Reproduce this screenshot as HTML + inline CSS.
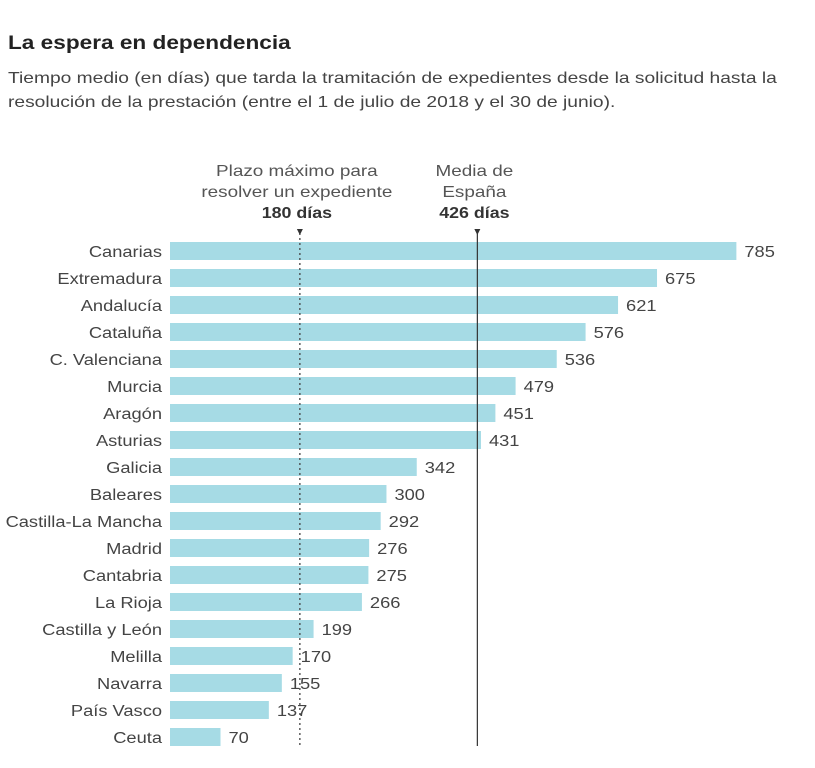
<!DOCTYPE html>
<html><head><meta charset="utf-8"><style>
body{margin:0;background:#fff;width:815px;height:768px;overflow:hidden;font-family:"Liberation Sans",sans-serif;color:#333}
h1{position:absolute;left:8px;top:33px;margin:0;font-size:19px;font-weight:bold;color:#222;transform:scaleX(1.19);transform-origin:0 0;white-space:nowrap}
p{position:absolute;left:8px;top:67px;margin:0;font-size:16px;line-height:24px;color:#444;width:650px;transform:scaleX(1.2);transform-origin:0 0}
svg{position:absolute;left:0;top:0}
</style></head><body>
<h1>La espera en dependencia</h1>
<p>Tiempo medio (en días) que tarda la tramitación de expedientes desde la solicitud hasta la resolución de la prestación (entre el 1 de julio de 2018 y el 30 de junio).</p>
<svg id="c" width="815" height="768"></svg>
<script>
const regions=["Canarias","Extremadura","Andalucía","Cataluña","C. Valenciana","Murcia","Aragón","Asturias","Galicia","Baleares","Castilla-La Mancha","Madrid","Cantabria","La Rioja","Castilla y León","Melilla","Navarra","País Vasco","Ceuta"];
const days=[785,675,621,576,536,479,451,431,342,300,292,276,275,266,199,170,155,137,70];
const maxLimit=180;
const spainMean=426;
const svg=document.getElementById('c');const NS="http://www.w3.org/2000/svg";
const x=v=>170+v*0.7215;
const y=i=>242+i*27;
function mk(t,a,txt){const e=document.createElementNS(NS,t);for(const k in a)e.setAttribute(k,a[k]);if(txt!=null)e.textContent=txt;svg.appendChild(e);return e;}
function tx(px,py,anchor,txt,extra,sx){const a=Object.assign({x:0,y:0,'text-anchor':anchor,'font-size':'15.5',fill:'#444',transform:`translate(${px},${py}) scale(${sx||1.18},1)`},extra||{});return mk('text',a,txt);}
regions.forEach((r,i)=>{
 const b=mk('rect',{x:x(0),y:y(i),width:x(days[i])-x(0),height:18,fill:'#a6dbe5'});
 
 
 const l=tx(162,y(i)+15,'end',r);
 
 
 const v=tx(x(days[i])+8,y(i)+15,'start',days[i]);
 
 
});
const d=mk('line',{x1:x(maxLimit),x2:x(maxLimit),y1:233,y2:746,stroke:'#444','stroke-width':1.3,'stroke-dasharray':'2,3'});


const m=mk('line',{x1:x(spainMean),x2:x(spainMean),y1:233,y2:746,stroke:'#333','stroke-width':1.2});


[[x(maxLimit),["Plazo máximo para","resolver un expediente"],maxLimit+" días"],[x(spainMean),["Media de","España"],spainMean+" días"]].forEach(([cx,lines,b],k)=>{
 lines.forEach((t,j)=>{const e=tx(cx-3,176+j*21,'middle',t,{fill:'#555'},1.22);});
 const e=tx(cx-3,218,'middle',b,{'font-weight':'bold',fill:'#333'},1.15);
 
 
 const p=mk('path',{d:`M${cx-3},229 L${cx+3},229 L${cx},235 Z`,fill:'#333'});
 
 
});
</script>
</body></html>
